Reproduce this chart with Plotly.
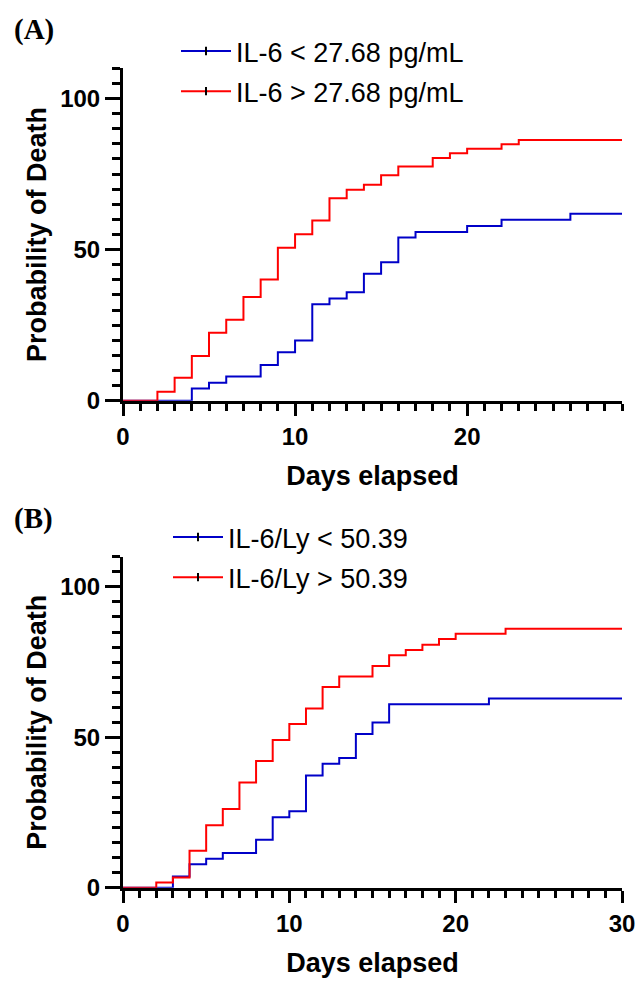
import plotly.graph_objects as go

W, H = 637, 981

# ---- data ----
a_hi_days = [0, 2, 3, 4, 5, 6, 7, 8, 9, 10, 11, 12, 13, 14, 15, 16, 18, 19, 20, 22, 23, 29]
a_hi_prob = [0, 3.0, 7.6, 14.8, 22.5, 26.8, 34.3, 40.1, 50.6, 55.1, 59.6, 67.0, 69.8, 71.5,
             74.6, 77.5, 80.3, 81.9, 83.4, 84.9, 86.3, 86.3]
a_lo_days = [0, 4, 5, 6, 8, 9, 10, 11, 12, 13, 14, 15, 16, 17, 20, 22, 26, 29]
a_lo_prob = [0, 4.0, 5.9, 8.0, 11.8, 16.0, 19.9, 31.9, 33.8, 35.9, 42.0, 45.8, 54.0, 55.8,
             57.8, 59.9, 61.9, 61.9]

b_hi_days = [0, 2, 3, 4, 5, 6, 7, 8, 9, 10, 11, 12, 13, 15, 16, 17, 18, 19, 20, 23, 30]
b_hi_prob = [0, 1.7, 3.4, 12.3, 20.8, 26.2, 35.0, 42.1, 49.1, 54.4, 59.6, 66.7, 70.2, 73.7,
             77.3, 79.0, 80.8, 82.7, 84.4, 86.1, 86.1]
b_lo_days = [0, 3, 4, 5, 6, 8, 9, 10, 11, 12, 13, 14, 15, 16, 22, 30]
b_lo_prob = [0, 3.7, 7.8, 9.6, 11.5, 15.9, 23.4, 25.4, 37.3, 41.2, 43.1, 51.1, 54.9, 61.0,
             62.9, 62.9]

a_names = ["IL-6 < 27.68 pg/mL", "IL-6 > 27.68 pg/mL"]
b_names = ["IL-6/Ly < 50.39", "IL-6/Ly > 50.39"]
panel_labels = ["(A)", "(B)"]
x_ticks_a = [0, 10, 20]
x_ticks_b = [0, 10, 20, 30]
y_ticks = [0, 50, 100]

BLUE = "#0000C8"
RED = "#FF0000"
SANS = "Arial, Liberation Sans, sans-serif"

fig = go.Figure()

def add_curve(x, y, color, xa, ya):
    fig.add_trace(go.Scatter(x=x, y=y, mode="lines", line=dict(color=color, width=2, shape="hv"),
                             xaxis=xa, yaxis=ya, showlegend=False, hoverinfo="skip"))

def add_legend_entry(name, color, legend, group, xa, ya):
    fig.add_trace(go.Scatter(x=[None], y=[None], mode="lines+markers", name=name,
                             line=dict(color=color, width=2),
                             marker=dict(symbol="line-ns", size=6, color="black",
                                         line=dict(color="black", width=2)),
                             legend=legend, legendgroup=group, xaxis=xa, yaxis=ya))

add_curve(a_lo_days, a_lo_prob, BLUE, "x", "y")
add_curve(a_hi_days, a_hi_prob, RED, "x", "y")
add_curve(b_lo_days, b_lo_prob, BLUE, "x2", "y2")
add_curve(b_hi_days, b_hi_prob, RED, "x2", "y2")

add_legend_entry(a_names[0], BLUE, "legend", "a1", "x", "y")
add_legend_entry(a_names[1], RED, "legend", "a2", "x", "y")
add_legend_entry(b_names[0], BLUE, "legend2", "b1", "x2", "y2")
add_legend_entry(b_names[1], RED, "legend2", "b2", "x2", "y2")

tickfont = dict(family=SANS, size=24, color="black", weight="bold")
titlefont = dict(family=SANS, size=27, color="black", weight="bold")

def xaxis(rng, ticks, anchor):
    return dict(domain=[123 / W, 622 / W], range=rng, anchor=anchor, automargin=False,
                showline=True, linewidth=3, linecolor="black", mirror=False,
                ticks="outside", ticklen=12, tickwidth=3, tickcolor="black",
                tickvals=ticks, tickfont=tickfont,
                minor=dict(dtick=1, ticks="outside", ticklen=7, tickwidth=3, tickcolor="black"),
                showgrid=False, zeroline=False, layer="below traces",
                title=dict(text="Days elapsed", font=titlefont, standoff=18))

def yaxis(dom, anchor):
    return dict(domain=dom, range=[0, 110], anchor=anchor, automargin=False,
                showline=True, linewidth=3, linecolor="black",
                ticks="outside", ticklen=15, tickwidth=3, tickcolor="black",
                tickvals=y_ticks, tickfont=tickfont,
                minor=dict(dtick=5, ticks="outside", ticklen=8, tickwidth=3, tickcolor="black"),
                showgrid=False, zeroline=False, layer="below traces",
                title=dict(text="Probability of Death", font=titlefont, standoff=6))

fig.update_layout(
    width=W, height=H,
    margin=dict(l=0, r=0, t=0, b=0),
    paper_bgcolor="white", plot_bgcolor="white",
    xaxis=xaxis([0, 29], x_ticks_a, "y"),
    yaxis=yaxis([1 - 400.7 / H, 1 - 68.3 / H], "x"),
    xaxis2=xaxis([0, 30], x_ticks_b, "y2"),
    yaxis2=yaxis([1 - 887.7 / H, 1 - 556.8 / H], "x2"),
    legend=dict(x=176 / W, y=1 - 27 / H, xanchor="left", yanchor="top",
                font=dict(family=SANS, size=27, color="black"),
                bgcolor="rgba(0,0,0,0)", itemwidth=50, tracegroupgap=2,
                traceorder="grouped"),
    legend2=dict(x=168 / W, y=1 - 513 / H, xanchor="left", yanchor="top",
                 font=dict(family=SANS, size=27, color="black"),
                 bgcolor="rgba(0,0,0,0)", itemwidth=50, tracegroupgap=2,
                 traceorder="grouped"),
    showlegend=True,
)

for label, yc in zip(panel_labels, [29, 518]):
    fig.add_annotation(text=label, xref="paper", yref="paper", x=12 / W, y=1 - yc / H,
                       xanchor="left", yanchor="middle", showarrow=False,
                       font=dict(family="Liberation Serif, Times New Roman, serif", size=29,
                                 color="black", weight="bold"))

fig.write_html("out.html", config={"displayModeBar": False},
               post_script="document.body.style.margin='0';")
